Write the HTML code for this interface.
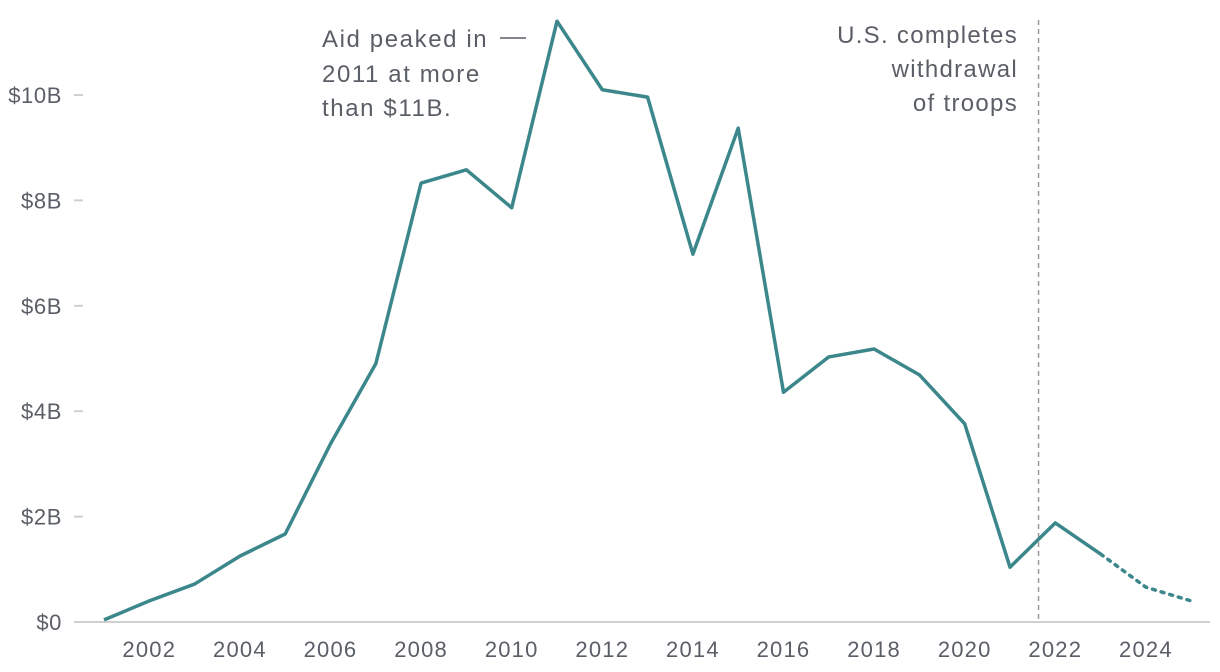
<!DOCTYPE html>
<html><head><meta charset="utf-8"><style>
html,body{margin:0;padding:0;background:#fff;}
svg{display:block;font-family:"Liberation Sans",sans-serif;}
</style></head><body>
<svg width="1220" height="672">
<g id="axes"></g><g id="marks"></g>
<g fill="#5a5e66" font-size="24" letter-spacing="1.6">
<text x="322" y="47">Aid peaked in</text>
<line x1="500" y1="38" x2="526" y2="38" stroke="#5a5e66" stroke-width="1.5"/>
<text x="322" y="82">2011 at more</text>
<text x="322" y="116">than $11B.</text>
</g>
<g fill="#5a5e66" font-size="24" text-anchor="end" letter-spacing="1.3">
<text x="1018" y="43">U.S. completes</text>
<text x="1018" y="77">withdrawal</text>
<text x="1018" y="111">of troops</text>
</g>
</svg>
<script>
const years=[2001,2002,2003,2004,2005,2006,2007,2008,2009,2010,2011,2012,2013,2014,2015,2016,2017,2018,2019,2020,2021,2022,2023];
const values=[0.04,0.4,0.72,1.25,1.67,3.38,4.9,8.33,8.58,7.86,11.4,10.1,9.96,6.98,9.37,4.36,5.03,5.18,4.69,3.76,1.04,1.88,1.29];
const projYears=[2023,2024,2025];
const projValues=[1.29,0.66,0.4];
const yTicks=[0,2,4,6,8,10];
const yTickLabels=["$0","$2B","$4B","$6B","$8B","$10B"];
const xTicks=[2002,2004,2006,2008,2010,2012,2014,2016,2018,2020,2022,2024];
const withdrawalYear=2021.63;
const NS="http://www.w3.org/2000/svg";
const x=y=>104+(y-2001)*45.3;
const yS=v=>622-v*52.7;
function mk(t,a,p){const e=document.createElementNS(NS,t);for(const k in a)e.setAttribute(k,a[k]);p.appendChild(e);return e;}
const axes=document.getElementById('axes'),marks=document.getElementById('marks');
const base=mk('line',{x1:74,x2:1210,y1:yS(0),y2:yS(0),stroke:'#cfcfcf','stroke-width':2},axes);


yTicks.forEach((v,i)=>{
 if(v>0){const t=mk('line',{x1:74,x2:83,y1:yS(v),y2:yS(v),stroke:'#cfcfcf','stroke-width':2},axes);
 
 }
 const l=mk('text',{x:62,y:yS(v)+8,'text-anchor':'end','font-size':22,fill:'#5a5e66','letter-spacing':0.6},axes);
 l.textContent=yTickLabels[i];
 
 
});
xTicks.forEach(v=>{
 const l=mk('text',{x:x(v),y:657,'text-anchor':'middle','font-size':22,fill:'#5a5e66','letter-spacing':1.2},axes);
 l.textContent=v;
 
 
});
const vl=mk('line',{x1:x(withdrawalYear),x2:x(withdrawalYear),y1:20,y2:622,stroke:'#999','stroke-width':1.5,'stroke-dasharray':'5,4'},marks);


const line=mk('polyline',{points:years.map((y,i)=>x(y)+','+yS(values[i])).join(' '),fill:'none',stroke:'#3b878b','stroke-width':3.5,'stroke-linejoin':'round'},marks);


const proj=mk('polyline',{points:projYears.map((y,i)=>x(y)+','+yS(projValues[i])).join(' '),fill:'none',stroke:'#3b878b','stroke-width':3.5,'stroke-dasharray':'3,6','stroke-linecap':'round'},marks);


</script>
</body></html>
